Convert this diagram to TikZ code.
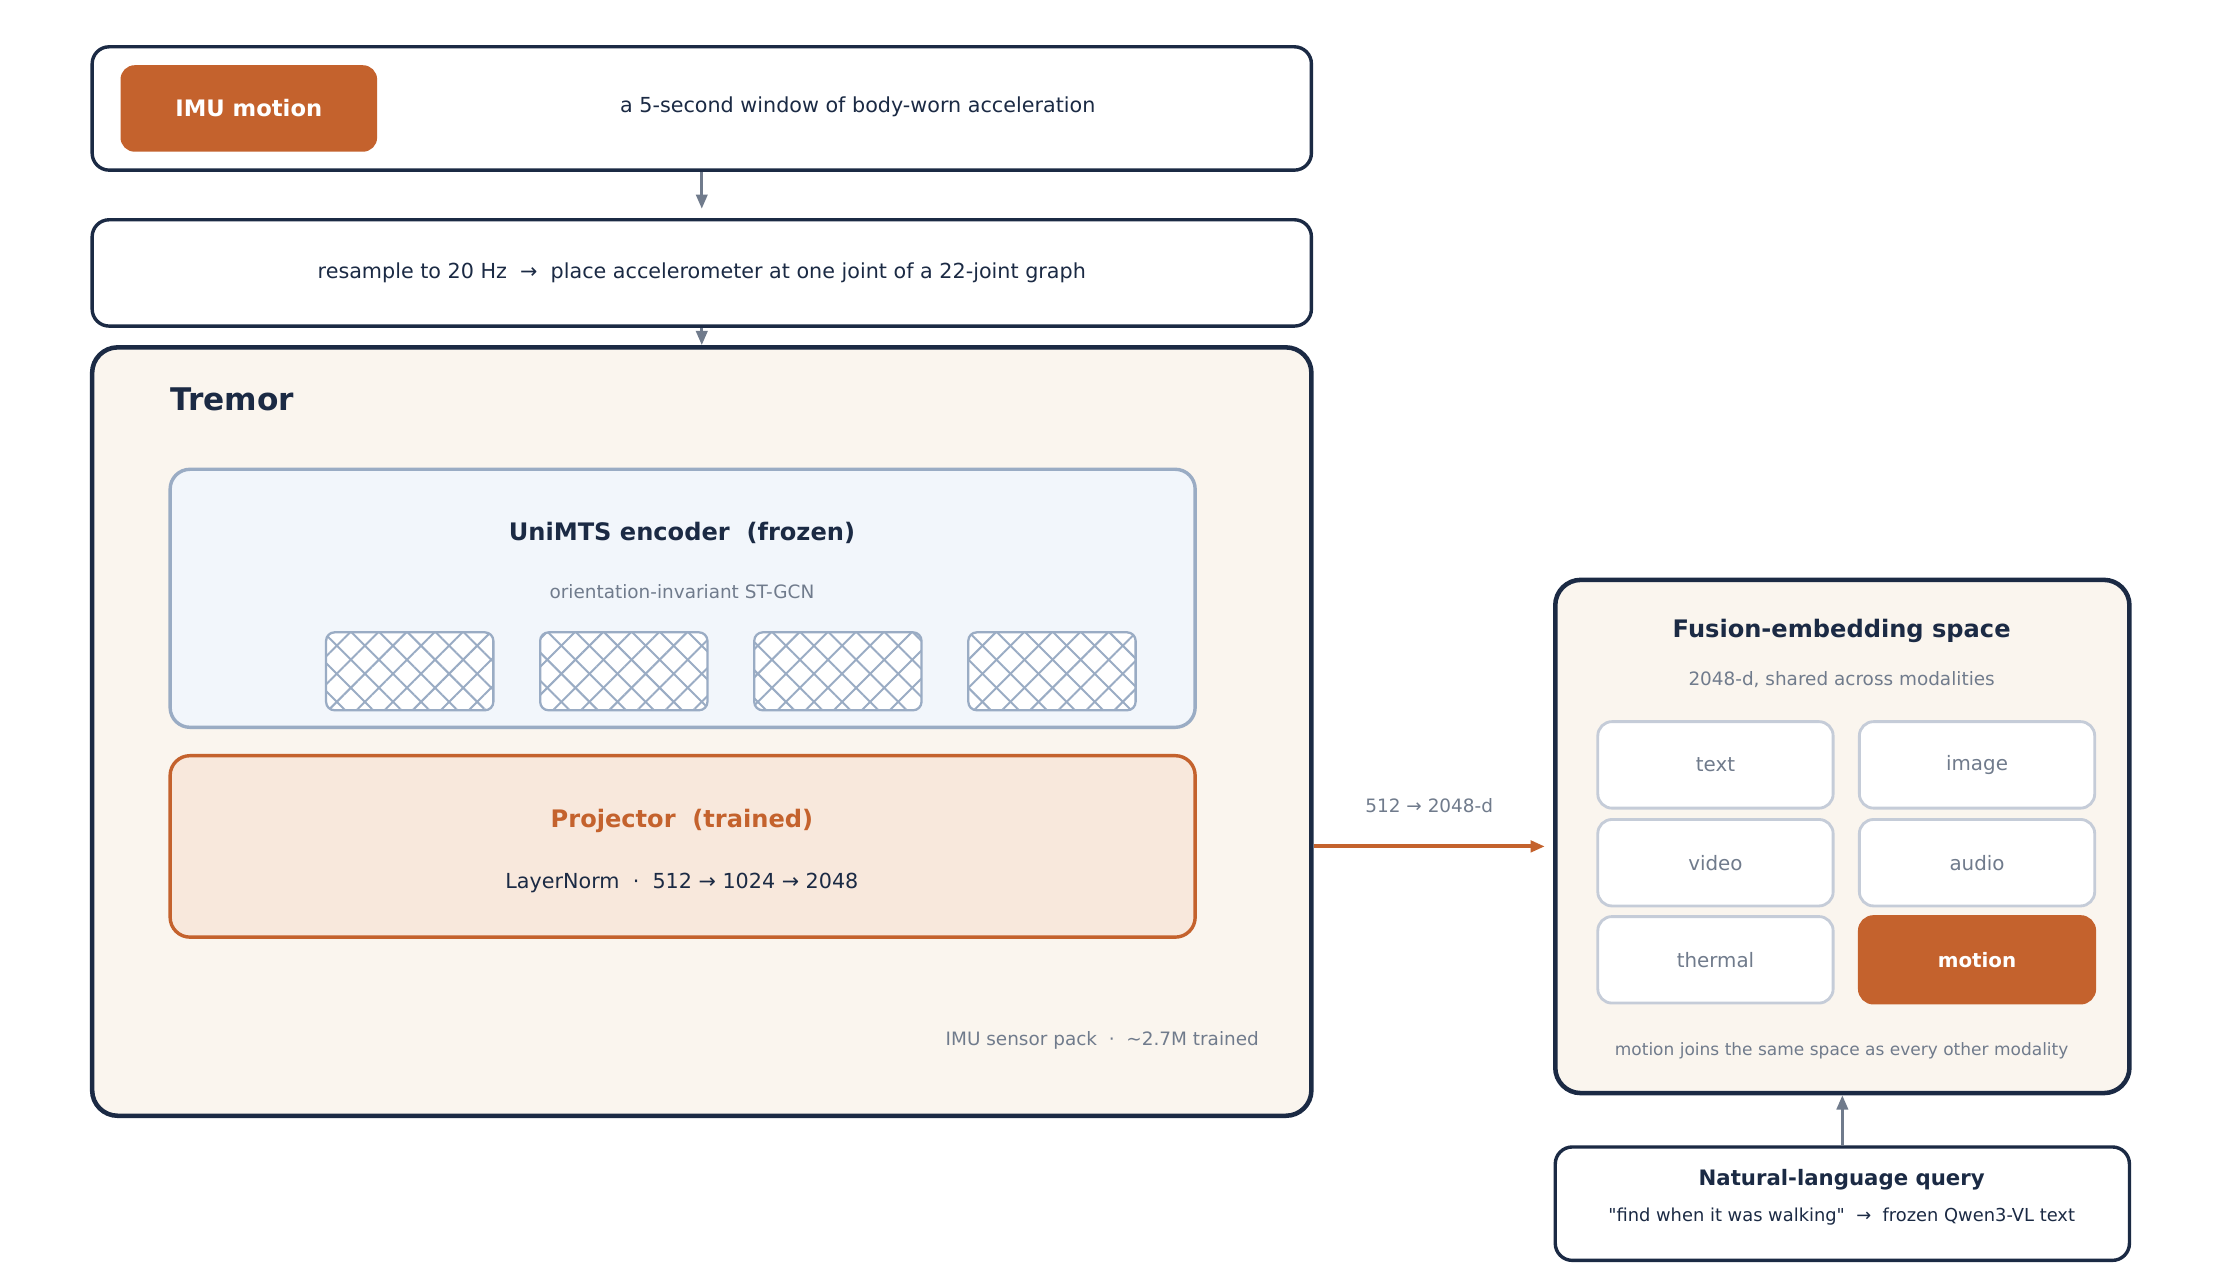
\documentclass[tikz,border=0pt]{standalone}
\usepackage{fontspec}
\setmainfont{DejaVu Sans}
\usetikzlibrary{patterns.meta,arrows.meta}
\definecolor{navy}{HTML}{1B2A44}
\definecolor{rust}{HTML}{C4622D}
\definecolor{cream}{HTML}{FAF5EE}
\definecolor{peach}{HTML}{F8E8DC}
\definecolor{ice}{HTML}{F2F6FB}
\definecolor{steel}{HTML}{9AACC4}
\definecolor{slate}{HTML}{707B8C}
\definecolor{cellb}{HTML}{C5CCD8}
\tikzset{
  panel/.style={draw=navy,line width=1.2pt,rounded corners=6pt,fill=white,inner sep=0pt},
  big/.style={draw=navy,line width=1.6pt,rounded corners=9pt,fill=cream,inner sep=0pt},
  cell/.style={draw=cellb,line width=1pt,rounded corners=5pt,fill=white,minimum width=83pt,minimum height=30.5pt,text=slate,font=\fontsize{7}{8}\selectfont},
  hatch/.style={draw=steel,line width=0.8pt,rounded corners=3pt,minimum width=59pt,minimum height=27.5pt,
    pattern={Lines[angle=45,distance=7pt,line width=0.7pt]},pattern color=steel,
    preaction={fill=white,postaction={pattern={Lines[angle=-45,distance=7pt,line width=0.7pt]},pattern color=steel}}},
  flow/.style={-{Triangle[length=5pt,width=4pt]},line width=1pt,draw=slate},
  txt/.style={font=\fontsize{7.3}{9}\selectfont,text=navy},
  note/.style={font=\fontsize{6.5}{8}\selectfont,text=slate},
  head/.style={font=\bfseries\fontsize{8.5}{10}\selectfont,text=navy}
}
\begin{document}
\begin{tikzpicture}[x=0.5pt,y=0.5pt,yscale=-1]
  \useasboundingbox[fill=white] (0,0) rectangle (1568,891);
  % input
  \node[panel,minimum width=430pt,minimum height=43.5pt] (imu) at (495,76.5) {};
  \node[fill=rust,rounded corners=5pt,minimum width=90.5pt,minimum height=30.5pt,text=white,font=\bfseries\fontsize{8}{10}\selectfont] (tag) at (175.5,76.5) {IMU motion};
  \node[txt] (imutxt) at (605,75) {a 5-second window of body-worn acceleration};
  \node[panel,minimum width=430pt,minimum height=37.5pt,txt] (prep) at (495,192.5) {resample to 20 Hz \ →\ \ place accelerometer at one joint of a 22-joint graph};
  % Tremor
  \node[big,minimum width=430pt,minimum height=271pt] (tremor) at (495,516) {};
  \node[anchor=west,font=\bfseries\fontsize{11}{13}\selectfont,text=navy] (ttl) at (113,282) {Tremor};
  \node[draw=steel,line width=1.2pt,rounded corners=7pt,fill=ice,minimum width=361.5pt,minimum height=91pt] (enc) at (481.5,422) {};
  \node[head] (enct) at (481,376) {UniMTS encoder\ \ (frozen)};
  \node[note] (encs) at (481,417) {orientation-invariant ST-GCN};
  \foreach \i/\x in {1/289,2/440,3/591,4/742}
    \node[hatch] (h\i) at (\x,473.5) {};
  \node[draw=rust,line width=1.2pt,rounded corners=7pt,fill=peach,minimum width=361.5pt,minimum height=64pt] (proj) at (481.5,597) {};
  \node[head,text=rust] (projt) at (481,579) {Projector\ \ (trained)};
  \node[txt] (projs) at (481,623) {LayerNorm\ \ ·\ \ 512 → 1024 → 2048};
  \node[note,anchor=east] (pack) at (895,734) {IMU sensor pack\ \ ·\ \ \textasciitilde2.7M trained};
  % fusion
  \node[big,minimum width=202.5pt,minimum height=181pt] (fus) at (1299.5,590) {};
  \node[head] (fust) at (1299,445) {Fusion-embedding space};
  \node[note] (fuss) at (1299,479) {2048-d, shared across modalities};
  \node[cell] (c1) at (1210,539.5) {text};
  \node[cell] (c2) at (1394.5,539.5) {image};
  \node[cell] (c3) at (1210,608.5) {video};
  \node[cell] (c4) at (1394.5,608.5) {audio};
  \node[cell] (c5) at (1210,677) {thermal};
  \node[cell,draw=rust,fill=rust,text=white,font=\bfseries\fontsize{7}{8}\selectfont] (c6) at (1394.5,677) {motion};
  \node[note,font=\fontsize{6}{7}\selectfont] (fusn) at (1299,741) {motion joins the same space as every other modality};
  % query
  \node[panel,minimum width=202.5pt,minimum height=40pt] (qry) at (1299.5,849) {};
  \node[head,font=\bfseries\fontsize{7.5}{9}\selectfont] (qt) at (1299,832) {Natural-language query};
  \node[txt,font=\fontsize{6.3}{8}\selectfont] (qs) at (1299,858) {\textquotedbl find when it was walking\textquotedbl\ \ →\ \ frozen Qwen3-VL text};
  % connectors
  \draw[flow] (imu.south) -- ++(0,26);
  \draw[flow] (prep.south) -- (tremor.north);
  \draw[flow,draw=rust,line width=1.4pt] (tremor.east |- proj.east) -- node[above=8pt,note] {512 → 2048-d} ++(163,0);
  \draw[flow] (qry.north) -- (fus.south);
\end{tikzpicture}
\end{document}
